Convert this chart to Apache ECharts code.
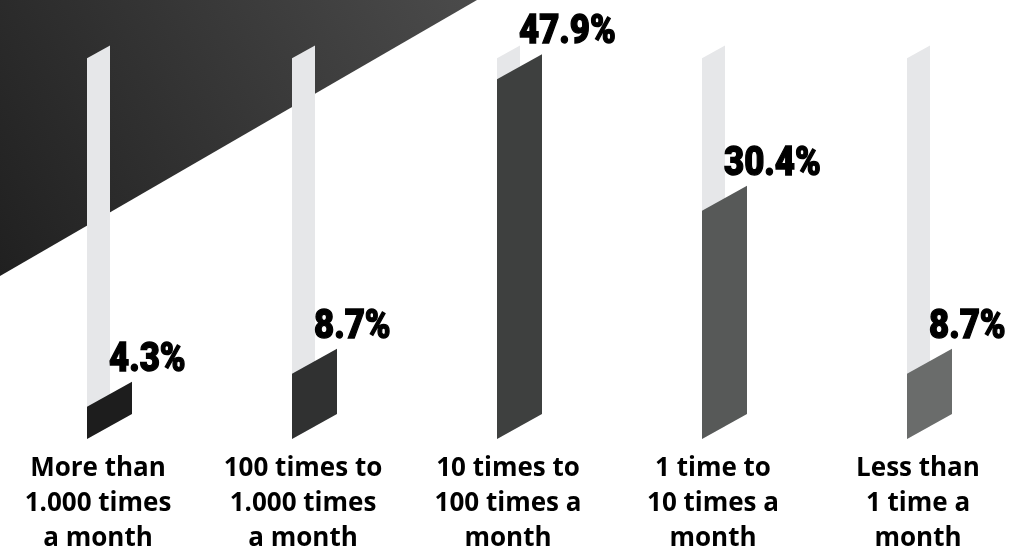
<!DOCTYPE html>
<html>
<head>
<meta charset="utf-8">
<title>Usage frequency</title>
<script src="https://cdn.jsdelivr.net/npm/echarts@6/dist/echarts.min.js"></script>
<style>
  html, body { margin: 0; padding: 0; background: #ffffff; }
  #chart { width: 1014px; height: 549px; }
</style>
</head>
<body>
<div id="chart"></div>
<script>
// Frequency buckets shown along the bottom
const categories = [
  'More than\n1.000 times\na month',
  '100 times to\n1.000 times\na month',
  '10 times to\n100 times a\nmonth',
  '1 time to\n10 times a\nmonth',
  'Less than\n1 time a\nmonth'
];
// Share of respondents per bucket (%)
const shares = [4.3, 8.7, 47.9, 30.4, 8.7];
// Height of the light background track behind every bar (%)
const trackValues = [50.7, 50.7, 50.7, 50.7, 50.7];

// Bar fills, darkest to lightest
const barColors = ['#1d1d1d', '#303131', '#3e403f', '#575958', '#6a6c6b'];
const trackColor = '#e6e7e9';

const BAR_W = 45;        // front bar width
const TRACK_W = 23;      // background track width
const SLANT = 0.555;     // rise per pixel of width
const OFFSET = 11;       // bar left edge relative to category centre
const LABEL_SQUEEZE = 0.87; // horizontal compression of the value labels

function slanted(x0, yBottom, yTop, w) {
  const d = w * SLANT;
  return [
    [x0, yBottom],
    [x0, yTop],
    [x0 + w, yTop - d],
    [x0 + w, yBottom - d]
  ];
}

const chart = echarts.init(document.getElementById('chart'), null, { renderer: 'canvas' });

chart.setOption({
  animation: false,
  backgroundColor: '#ffffff',
  graphic: [{
    type: 'polygon',
    z: 0,
    silent: true,
    shape: { points: [[0, 0], [477, 0], [0, 276]] },
    style: {
      fill: new echarts.graphic.LinearGradient(0, 1, 1, 0, [
        { offset: 0, color: '#202020' },
        { offset: 1, color: '#4b4b4b' }
      ])
    }
  }],
  grid: { left: 98, right: 96, top: 0, bottom: 110, outerBoundsMode: 'none', containLabel: false },
  xAxis: {
    type: 'category',
    data: categories,
    boundaryGap: false,
    axisLine: { show: false },
    axisTick: { show: false },
    splitLine: { show: false },
    axisLabel: {
      interval: 0,
      margin: 12,
      color: '#000000',
      fontFamily: '"Open Sans", Lato, sans-serif',
      fontWeight: 'bold',
      fontSize: 26,
      lineHeight: 35,
      align: 'center'
    }
  },
  yAxis: {
    type: 'value',
    min: 0,
    max: 58.45,
    show: false,
    splitLine: { show: false }
  },
  series: [
    {
      name: 'track',
      type: 'custom',
      z: 2,
      silent: true,
      data: trackValues.map((v, i) => [i, v]),
      renderItem(params, api) {
        const i = api.value(0);
        const base = api.coord([i, 0]);
        const top = api.coord([i, api.value(1)]);
        const x0 = base[0] - OFFSET;
        return {
          type: 'polygon',
          shape: { points: slanted(x0, base[1], top[1], TRACK_W) },
          style: { fill: trackColor }
        };
      }
    },
    {
      name: 'share',
      type: 'custom',
      z: 3,
      data: shares.map((v, i) => [i, v]),
      renderItem(params, api) {
        const i = api.value(0);
        const v = api.value(1);
        const base = api.coord([i, 0]);
        const top = api.coord([i, v]);
        const x0 = base[0] - OFFSET;
        const yRightTop = top[1] - BAR_W * SLANT;
        return {
          type: 'group',
          children: [
            {
              type: 'polygon',
              shape: { points: slanted(x0, base[1], top[1], BAR_W) },
              style: { fill: barColors[i] }
            },
            {
              type: 'text',
              x: x0 + TRACK_W - 1,
              y: yRightTop - 21,
              scaleX: LABEL_SQUEEZE,
              style: {
                x: 0,
                y: 0,
                text: v.toFixed(1) + '%',
                fill: '#000000',
                stroke: '#000000',
                lineWidth: 1.4,
                font: '900 40px Roboto, Lato, sans-serif',
                textAlign: 'left',
                textVerticalAlign: 'middle'
              }
            }
          ]
        };
      }
    }
  ]
});
</script>
</body>
</html>
